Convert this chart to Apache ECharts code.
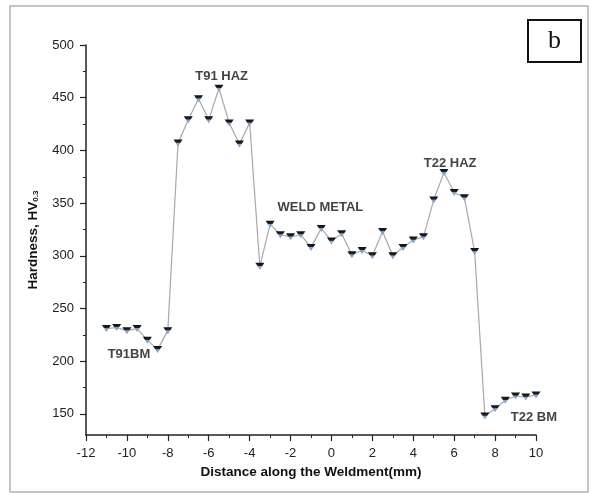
<!DOCTYPE html>
<html>
<head>
<meta charset="utf-8">
<script src="https://cdn.jsdelivr.net/npm/echarts@6/dist/echarts.min.js"></script>
<style>
html,body{margin:0;padding:0;background:#fff;}
#c{width:591px;height:494px;}
</style>
</head>
<body>
<div id="c"></div>
<script>
const distance = [-11,-10.5,-10,-9.5,-9,-8.5,-8,-7.5,-7,-6.5,-6,-5.5,-5,-4.5,-4,-3.5,-3,-2.5,-2,-1.5,-1,-0.5,0,0.5,1,1.5,2,2.5,3,3.5,4,4.5,5,5.5,6,6.5,7,7.5,8,8.5,9,9.5,10];
const hardness = [231,232,229,231,220,211,229,407,429,449,429,459,426,406,426,290,330,320,318,320,308,326,314,321,301,305,300,323,300,308,315,318,353,379,360,355,304,148,155,163,167,166,168];
const yMajorTicks = [150,200,250,300,350,400,450,500];
const yMinorTicks = [175,225,275,325,375,425,475];
const regionLabels = ['T91 HAZ','WELD METAL','T22 HAZ','T91BM','T22 BM'];
const regionX = [-5.37,-0.54,5.8,-9.9,9.9];
const regionY = [470,346,388,206,147];

const chart = echarts.init(document.getElementById('c'), null, {renderer:'canvas'});
const FONT = '"Liberation Sans", Arial, sans-serif';
const tri = 'path://M0,0 L10,0 L5,8 Z';
const markerFill = new echarts.graphic.LinearGradient(0,0,0,1,[
  {offset:0,color:'#111'},{offset:0.4,color:'#222'},{offset:0.5,color:'#7fa6cf'},{offset:1,color:'#7fa6cf'}
]);

chart.setOption({
  animation:false,
  backgroundColor:'#fff',
  grid:{left:86,right:55,top:45,bottom:59,containLabel:false},
  xAxis:{
    type:'value',min:-12,max:10,interval:2,
    axisLine:{show:true,onZero:false,lineStyle:{color:'#222',width:1.5}},
    axisTick:{show:true,inside:false,length:6,lineStyle:{color:'#222',width:1.2}},
    minorTick:{show:true,splitNumber:2,length:3,lineStyle:{color:'#222',width:1}},
    splitLine:{show:false},
    axisLabel:{margin:12,fontFamily:FONT,fontSize:13,color:'#222'},
    name:'Distance along the Weldment(mm)',nameLocation:'middle',nameGap:30,
    nameTextStyle:{fontFamily:FONT,fontSize:13.5,fontWeight:'bold',color:'#111'}
  },
  yAxis:[{
    type:'value',min:130,max:500,
    axisLine:{show:true,onZero:false,lineStyle:{color:'#222',width:1.5}},
    axisTick:{show:true,inside:false,length:6,customValues:yMajorTicks,lineStyle:{color:'#222',width:1.2}},
    splitLine:{show:false},
    axisLabel:{margin:12,fontFamily:FONT,fontSize:13,color:'#222',customValues:yMajorTicks},
    name:'Hardness, HV{sub|0.3}',nameLocation:'middle',nameGap:46,
    nameTextStyle:{fontFamily:FONT,fontSize:13.5,fontWeight:'bold',color:'#111',
      rich:{sub:{fontFamily:FONT,fontSize:8,fontWeight:'bold',color:'#111',verticalAlign:'bottom',padding:[6,0,0,0]}}}
  },{
    type:'value',min:130,max:500,position:'left',
    axisLine:{show:false,onZero:false},
    axisTick:{show:true,inside:false,length:3,customValues:yMinorTicks,lineStyle:{color:'#222',width:1}},
    axisLabel:{show:false},splitLine:{show:false}
  }],
  series:[{
    type:'line',
    data:distance.map((d,i)=>[d,hardness[i]]),
    symbol:tri,symbolSize:[9,7],
    itemStyle:{color:markerFill,borderWidth:0},
    lineStyle:{color:'#a8a8a8',width:1.2},
    z:3
  },{
    type:'scatter',
    data:regionLabels.map((t,i)=>({value:[regionX[i],regionY[i]],name:t})),
    symbolSize:0,silent:true,
    label:{show:true,position:'inside',formatter:p=>p.name,fontFamily:FONT,fontSize:13,fontWeight:'bold',color:'#111'}
  }],
  graphic:[
    {type:'rect',shape:{x:10,y:6,width:578,height:486},style:{fill:'none',stroke:'#b4b4b4',lineWidth:1.5},z:-1},
    {type:'rect',shape:{x:528,y:20,width:53,height:42},style:{fill:'#fff',stroke:'#111',lineWidth:2}},
    {type:'text',x:554.5,y:41,style:{text:'b',fontFamily:'"Liberation Serif", "Times New Roman", serif',fontSize:26,fill:'#111',align:'center',verticalAlign:'middle'}}
  ]
});
</script>
</body>
</html>
